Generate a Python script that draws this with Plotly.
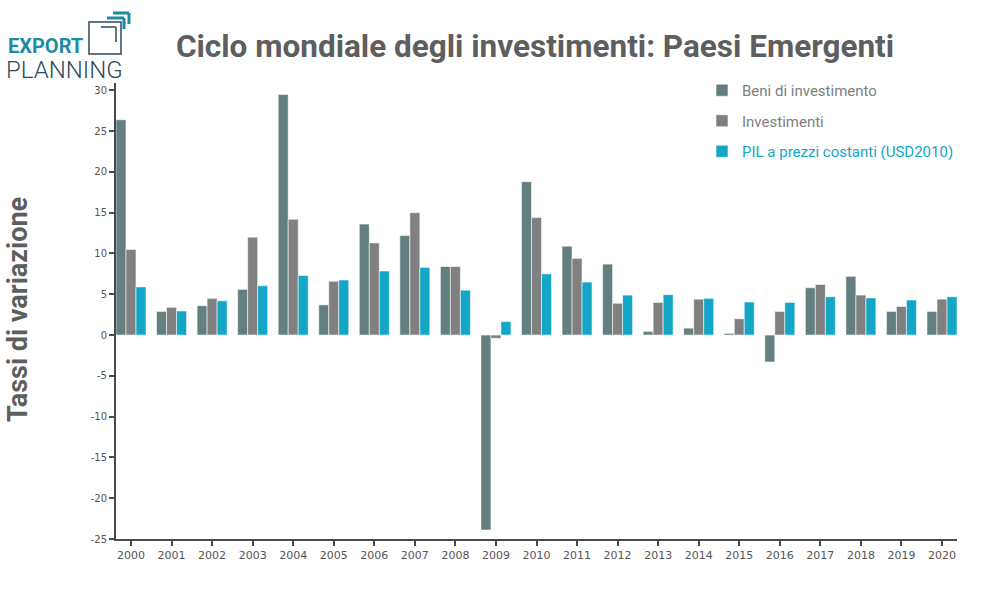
import plotly.graph_objects as go

# data
years = [str(y) for y in range(2000, 2021)]
beni = [26.4, 2.9, 3.6, 5.6, 29.5, 3.7, 13.6, 12.2, 8.4, -23.9, 18.8,
        10.9, 8.7, 0.45, 0.85, 0.2, -3.3, 5.8, 7.2, 2.9, 2.9]
investimenti = [10.5, 3.4, 4.5, 12.0, 14.2, 6.6, 11.3, 15.0, 8.4, -0.4, 14.4,
                9.4, 3.9, 4.0, 4.4, 2.0, 2.9, 6.2, 4.9, 3.5, 4.4]
pil = [5.9, 2.95, 4.2, 6.05, 7.3, 6.75, 7.85, 8.3, 5.5, 1.65, 7.5,
       6.5, 4.9, 4.95, 4.5, 4.05, 4.0, 4.7, 4.55, 4.3, 4.7]
y_ticks = [-25, -20, -15, -10, -5, 0, 5, 10, 15, 20, 25, 30]

series_names = ['Beni di investimento', 'Investimenti', 'PIL a prezzi costanti (USD2010)']
colors = ['#637f7f', '#808080', '#13a6c6']
legend_text_colors = ['#808080', '#808080', '#13a6c6']

W, H = 981, 594
L, R, T, B = 116, 24, 83, 55

def px(x):
    return (x - L) / (W - L - R)

def py(y):
    return (H - B - y) / (H - B - T)

fig = go.Figure()
for name, vals, col, tcol in zip(series_names, [beni, investimenti, pil], colors, legend_text_colors):
    fig.add_trace(go.Bar(
        x=years, y=vals,
        name=f'<span style="color:{tcol}">{name}</span>',
        legendgroup=name,
        marker=dict(color=col, line=dict(color='rgba(255,255,255,0.55)', width=1)),
    ))

axis_col = '#4a4a4a'
fig.update_layout(
    width=W, height=H,
    margin=dict(l=L, r=R, t=T, b=B),
    plot_bgcolor='white', paper_bgcolor='white',
    barmode='group', bargap=0.26, bargroupgap=0,
    font=dict(family='DejaVu Sans', color='#555555', size=11),
    title=dict(text='Ciclo mondiale degli investimenti: Paesi Emergenti',
               x=535 / W, xanchor='center', y=1 - 46 / H, yanchor='middle',
               font=dict(family='Roboto', size=31.5, color='#5e5e5e', weight='bold')),
    legend=dict(x=px(702), y=py(74), xanchor='left', yanchor='top',
                font=dict(family='Roboto', size=15, color='#808080'),
                tracegroupgap=8, bgcolor='rgba(0,0,0,0)'),
    xaxis=dict(type='category', range=[-0.37, 20.37], showgrid=False, zeroline=False,
               showline=True, linecolor=axis_col, linewidth=2,
               ticks='outside', ticklen=5, tickcolor=axis_col, tickwidth=1.5,
               tickfont=dict(size=11, color='#555555')),
    yaxis=dict(range=[-25, 30.9], showgrid=False, zeroline=False,
               tickvals=y_ticks, ticktext=[str(v) for v in y_ticks],
               showline=True, linecolor=axis_col, linewidth=2,
               ticks='outside', ticklen=5, tickcolor=axis_col, tickwidth=1.5,
               tickfont=dict(size=10, color='#555555')),
)

# y axis title
fig.add_annotation(text='Tassi di variazione', xref='paper', yref='paper',
                   x=px(18), y=py(310), textangle=-90, showarrow=False,
                   xanchor='center', yanchor='middle',
                   font=dict(family='Roboto', size=27, color='#5e5e5e', weight='bold'))

# logo
fig.add_annotation(text='EXPORT', xref='paper', yref='paper', x=px(6), y=py(46),
                   xanchor='left', yanchor='middle', showarrow=False,
                   font=dict(family='Roboto', size=20, color='#1f8ba3', weight='bold'))
fig.add_annotation(text='PLANNING', xref='paper', yref='paper', x=px(4), y=py(70),
                   xanchor='left', yanchor='middle', showarrow=False,
                   font=dict(family='Roboto', size=24, color='#2e4a5c', weight=300))

def seg(x0, y0, x1, y1, col, w):
    fig.add_shape(type='line', xref='paper', yref='paper',
                  x0=px(x0), y0=py(y0), x1=px(x1), y1=py(y1),
                  line=dict(color=col, width=w))

slate = '#2e4a5c'
teal = '#1f8ba3'
# outer square
fig.add_shape(type='rect', xref='paper', yref='paper',
              x0=px(89), y0=py(22), x1=px(121), y1=py(54),
              line=dict(color=slate, width=1.5))
seg(101, 27, 116, 27, slate, 1.5)
seg(116, 27, 116, 42, slate, 1.5)
seg(107, 18, 124, 18, teal, 3)
seg(124, 18, 124, 29, teal, 3)
seg(113, 13, 129, 13, teal, 3)
seg(129, 13, 129, 24, teal, 3)

fig.write_html('out.html', config={'displayModeBar': False},
               post_script="document.body.style.margin='0';")
